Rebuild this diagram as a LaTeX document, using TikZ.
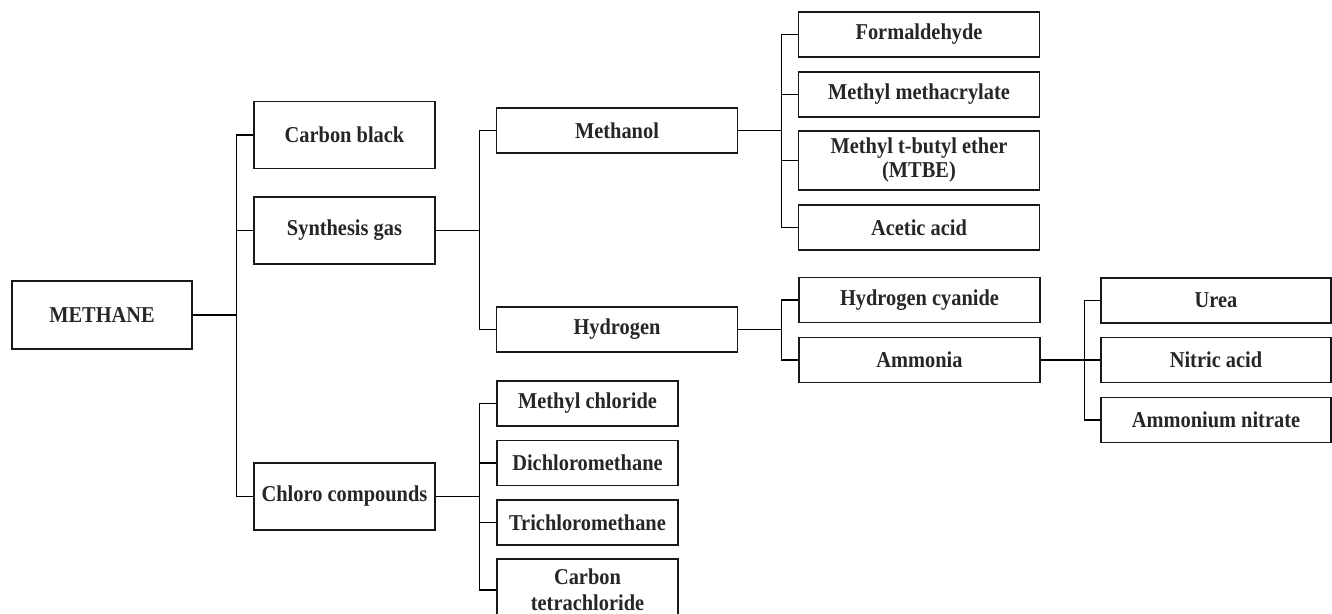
\documentclass[tikz,border=0pt]{standalone}
\usepackage{fontspec}
\setmainfont{Liberation Serif}[FakeStretch=0.9]

\def\branchgap{43.5}

\begin{document}
\begin{tikzpicture}[x=0.75pt,y=-0.75pt,line width=0.8pt]
    \tikzstyle{box}=[draw=black!90,rectangle,inner sep=0pt,align=center,text=black!85,font=\fontsize{17}{18}\selectfont\bfseries]
    \tikzstyle{big box}=[box,minimum width=135.75pt,minimum height=50.25pt]
    \tikzstyle{wide box}=[box,minimum width=180.75pt,minimum height=33.75pt]
    \tikzstyle{small box}=[box,minimum width=135.75pt,minimum height=33.75pt]
    \tikzstyle{tall}=[minimum height=44.25pt]

    \useasboundingbox (0,0) rectangle (1332,614);
    \clip (0,0) rectangle (1332,614);

    % Draw the root node
    \node[big box,minimum width=135pt,minimum height=51pt] (methane) at (102,315) {METHANE};

    % Draw the first products
    \node[big box] (carbon) at (344.5,135) {Carbon black};
    \node[big box] (syngas) at (344.5,230.5) {Synthesis gas};
    \node[big box] (chloro) at (344.5,496.5) {Chloro compounds};

    % Draw the synthesis gas products
    \node[wide box] (methanol) at (617,130.5) {Methanol};
    \node[wide box] (hydrogen) at (617,329.5) {Hydrogen};

    % Methanol derivatives
    \node[wide box] (formald) at (919,34.5) {Formaldehyde};
    \node[wide box] (methmeth) at (919,94.5) {Methyl methacrylate};
    \node[wide box,tall] (mtbe) at (919,160.5) {Methyl t-butyl ether\\(MTBE)};
    \node[wide box] (acetic) at (919,227.5) {Acetic acid};

    % Hydrogen derivatives
    \node[wide box] (hcn) at (919.5,300) {Hydrogen cyanide};
    \node[wide box] (ammonia) at (919.5,360) {Ammonia};

    % Ammonia derivatives
    \node[box,minimum width=172.5pt,minimum height=33.75pt] (urea) at (1216,300.5) {Urea};
    \node[box,minimum width=172.5pt,minimum height=33.75pt] (nitric) at (1216,360) {Nitric acid};
    \node[box,minimum width=172.5pt,minimum height=33.75pt] (ammnitr) at (1216,420) {Ammonium nitrate};

    % Chloro compounds
    \node[small box] (mecl) at (587.5,403.5) {Methyl chloride};
    \node[small box] (dcm) at (587.5,463) {Dichloromethane};
    \node[small box] (tcm) at (587.5,522.5) {Trichloromethane};
    \node[small box,minimum height=46.5pt,font=\fontsize{17}{19.5}\selectfont\bfseries] (ccl) at (587.5,590) {Carbon\\tetrachloride};

    % Connect every parent with its children
    \draw (methane.east) -- ++(\branchgap,0) coordinate (methane-t);
    \foreach \child in {carbon,syngas,chloro}
        \draw (methane-t) |- (\child.west);

    \draw (syngas.east) -- ++(\branchgap,0) coordinate (syngas-t);
    \foreach \child in {methanol,hydrogen}
        \draw (syngas-t) |- (\child.west);

    \draw (methanol.east) -- ++(\branchgap,0) coordinate (methanol-t);
    \foreach \child in {formald,methmeth,mtbe,acetic}
        \draw (methanol-t) |- (\child.west);

    \draw (hydrogen.east) -- ++(\branchgap,0) coordinate (hydrogen-t);
    \foreach \child in {hcn,ammonia}
        \draw (hydrogen-t) |- (\child.west);

    \draw (ammonia.east) -- ++(\branchgap,0) coordinate (ammonia-t);
    \foreach \child in {urea,nitric,ammnitr}
        \draw (ammonia-t) |- (\child.west);

    \draw (chloro.east) -- ++(\branchgap,0) coordinate (chloro-t);
    \foreach \child in {mecl,dcm,tcm,ccl}
        \draw (chloro-t) |- (\child.west);
\end{tikzpicture}
\end{document}
